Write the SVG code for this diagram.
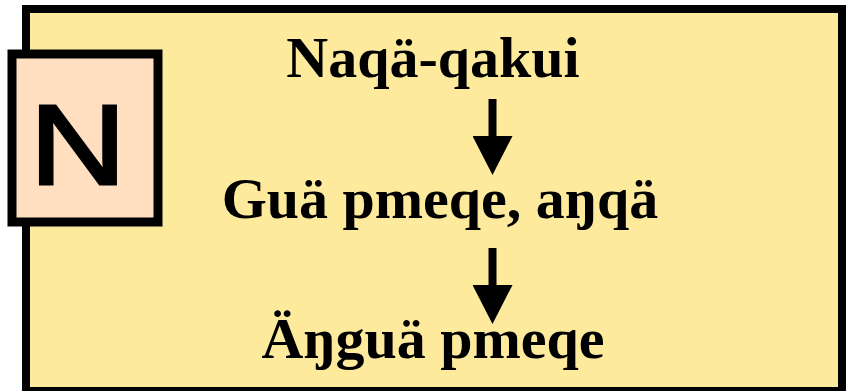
<svg xmlns="http://www.w3.org/2000/svg" width="856" height="391" viewBox="0 0 856 391">
<style>
.t{font-family:"Liberation Serif","Times New Roman",serif;font-weight:bold;font-size:58px;fill:#000;text-anchor:middle}
.c{stroke:#000;stroke-width:8;fill:none}
</style>
<defs>
<marker id="ah" markerUnits="userSpaceOnUse" markerWidth="40" markerHeight="40" viewBox="0 0 36 36" refX="18" refY="0" orient="0">
<path d="M0,0 L36,0 L18,35 Z" fill="#000"/>
</marker>
</defs>
<g id="frame">
<rect x="26" y="9" width="816" height="382" fill="#FDEA9C" stroke="#000" stroke-width="8"/>
</g>
<g id="badge">
<rect x="12" y="54" width="146" height="168" fill="#FFDFBF" stroke="#000" stroke-width="9"/>
<text transform="translate(78,183.5) scale(1.17,1)" font-family="Liberation Sans,Arial,sans-serif" font-size="114" text-anchor="middle" stroke="#000" stroke-width="3" stroke-linejoin="miter">N</text>
</g>
<g id="n1"><text class="t" x="433" y="77">Naqä-qakui</text></g>
<g id="n2"><text class="t" x="440" y="218">Guä pmeqe, aŋqä</text></g>
<g id="n3"><text class="t" x="433" y="358">Äŋguä pmeqe</text></g>
<g id="connectors">
<line class="c" x1="492.5" y1="99" x2="492.5" y2="136" marker-end="url(#ah)"/>
<line class="c" x1="492.5" y1="248" x2="492.5" y2="285" marker-end="url(#ah)"/>
</g>
</svg>
